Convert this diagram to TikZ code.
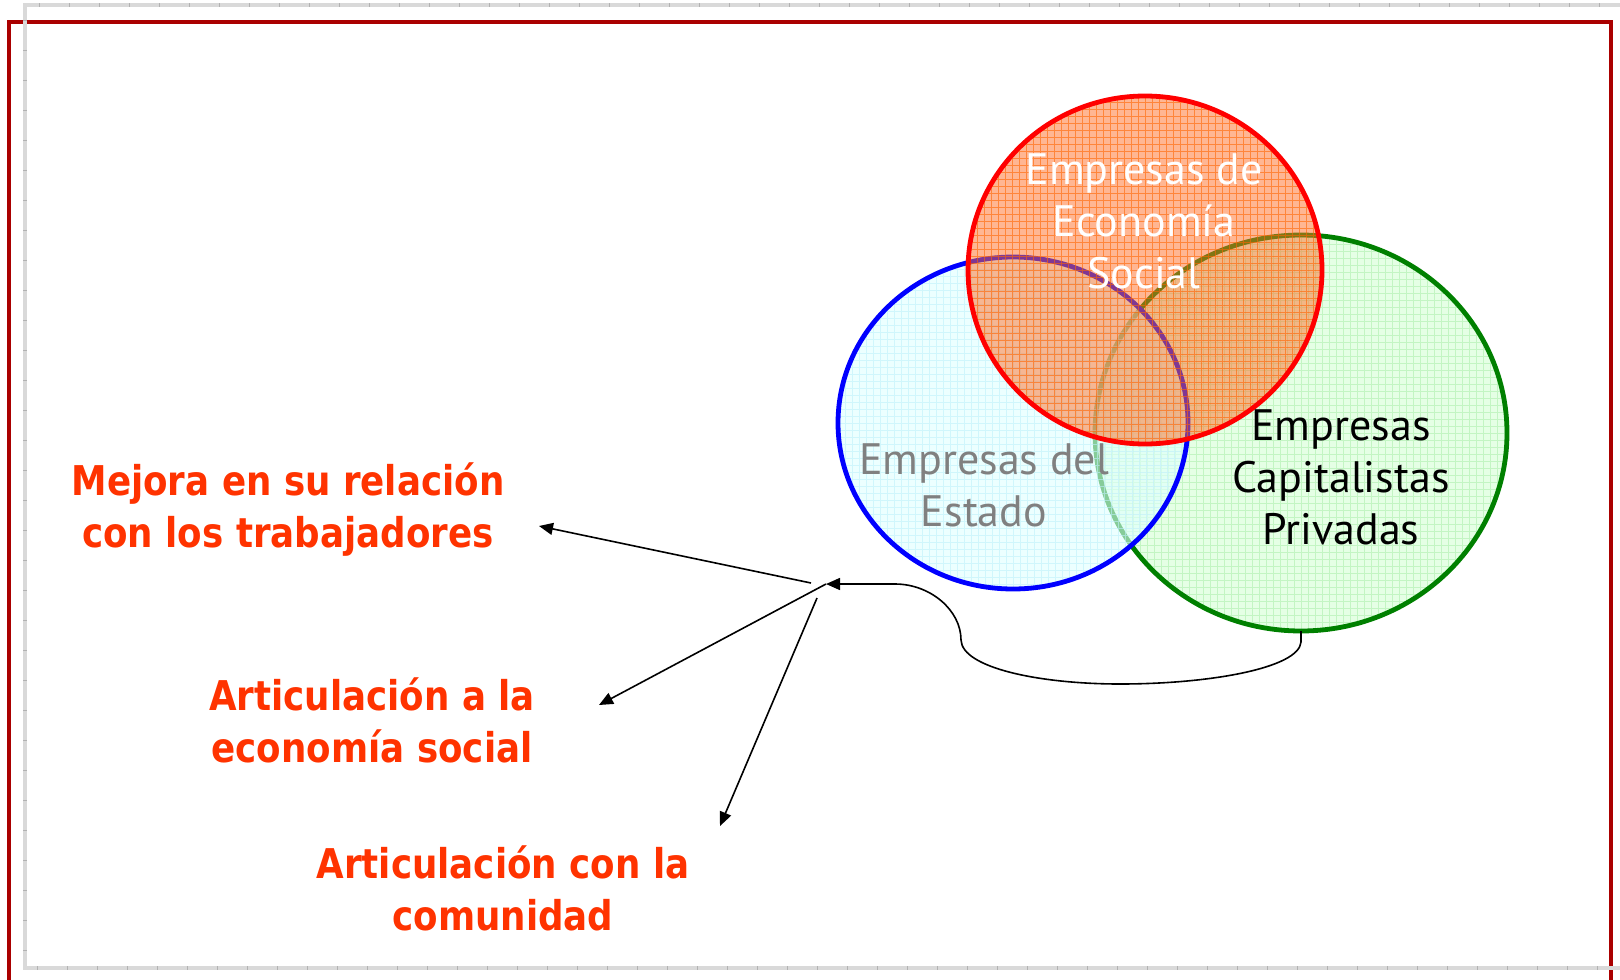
\documentclass[tikz,border=0pt]{standalone}
\usepackage{fontspec}
\setmainfont{PT Sans}
\newfontfamily\labfont[FakeStretch=0.87]{DejaVu Sans}
\usetikzlibrary{arrows.meta,shapes.geometric}
\definecolor{framered}{RGB}{170,0,0}
\definecolor{labred}{RGB}{255,51,0}
\definecolor{socfill}{RGB}{255,110,40}
\definecolor{socgrid}{RGB}{255,100,0}
\definecolor{estfill}{RGB}{224,255,255}
\definecolor{estgrid}{RGB}{190,240,250}
\definecolor{capfill}{RGB}{226,255,226}
\definecolor{capgrid}{RGB}{195,245,195}
\definecolor{capline}{RGB}{0,128,0}
\definecolor{esttext}{RGB}{128,128,128}
\tikzset{
  x=0.5pt, y=-0.5pt,
  venn/.style={ellipse, inner sep=0pt, outer sep=0pt, line width=2.4pt},
  intext/.style={align=center, font=\fontsize{22}{26}\selectfont, inner sep=0pt},
  lab/.style={align=center, text=labred, font=\labfont\bfseries\fontsize{20.5}{26}\selectfont, inner sep=0pt},
  conn/.style={line width=0.8pt, -{Triangle[length=7pt,width=6pt]}}
}
\begin{document}
\begin{tikzpicture}
\useasboundingbox (0,0) rectangle (1620,979);
\clip (0,0) rectangle (1620,979);
% frames
\draw[framered, line width=1.6pt] (9,1000) -- (9,22) -- (1611,22) -- (1611,1000);
\draw[gray!30, line width=2pt] (1630,5) -- (25,5) -- (25,968) -- (1630,968);
\draw[gray!60, line width=2pt, dash pattern=on 0.6pt off 14.4pt] (1630,5) -- (25,5) -- (25,968) -- (1630,968);
% circles
\node[venn, draw=capline, fill=capfill, fill opacity=0.9, minimum width=206pt, minimum height=198pt,
  path picture={\draw[capgrid, line width=0.3pt] (path picture bounding box.south west) grid[step=3.5pt] (path picture bounding box.north east);}]
  (cap) at (1301,433) {};
\node[venn, draw=blue, fill=estfill, fill opacity=0.6, minimum width=175pt, minimum height=166pt,
  path picture={\draw[estgrid, line width=0.3pt, opacity=0.6] (path picture bounding box.south west) grid[step=3.5pt] (path picture bounding box.north east);}]
  (est) at (1013,423) {};
\node[venn, draw=red, fill=socfill, fill opacity=0.5, minimum width=177pt, minimum height=174pt,
  path picture={\draw[socgrid, line width=0.4pt, opacity=0.6] (path picture bounding box.south west) grid[step=3.5pt] (path picture bounding box.north east);}]
  (soc) at (1145,270) {};
% circle texts
\node[intext, text=white] (tsoc) at (1144,221) {Empresas de\\Economía\\Social};
\node[intext, text=esttext] (test) at (984,485) {Empresas del\\Estado};
\node[intext, text=black] (tcap) at (1341,477) {Empresas\\Capitalistas\\Privadas};
% labels
\node[lab] (l1) at (288,510) {Mejora en su relación\\con los trabajadores};
\node[lab] (l2) at (372,720) {Articulación a la\\economía social};
\node[lab] (l3) at (503,888) {Articulación con la\\comunidad};
% connectors
\coordinate (hub) at (826,584);
\coordinate (h1) at (811,583);
\coordinate (h3) at (817,598);
\coordinate (t1) at (539,526);
\coordinate (t2) at (599,705);
\coordinate (t3) at (720,826);
\draw[conn] (cap.south) -- (1301,642) .. controls (1299,668) and (1210,684) .. (1120,684)
  .. controls (1040,684) and (962,668) .. (961,640)
  .. controls (961,610) and (930,584) .. (895,584) -- (hub);
\draw[conn] (h1) -- (t1);
\draw[conn] (hub) -- (t2);
\draw[conn] (h3) -- (t3);
\end{tikzpicture}
\end{document}
